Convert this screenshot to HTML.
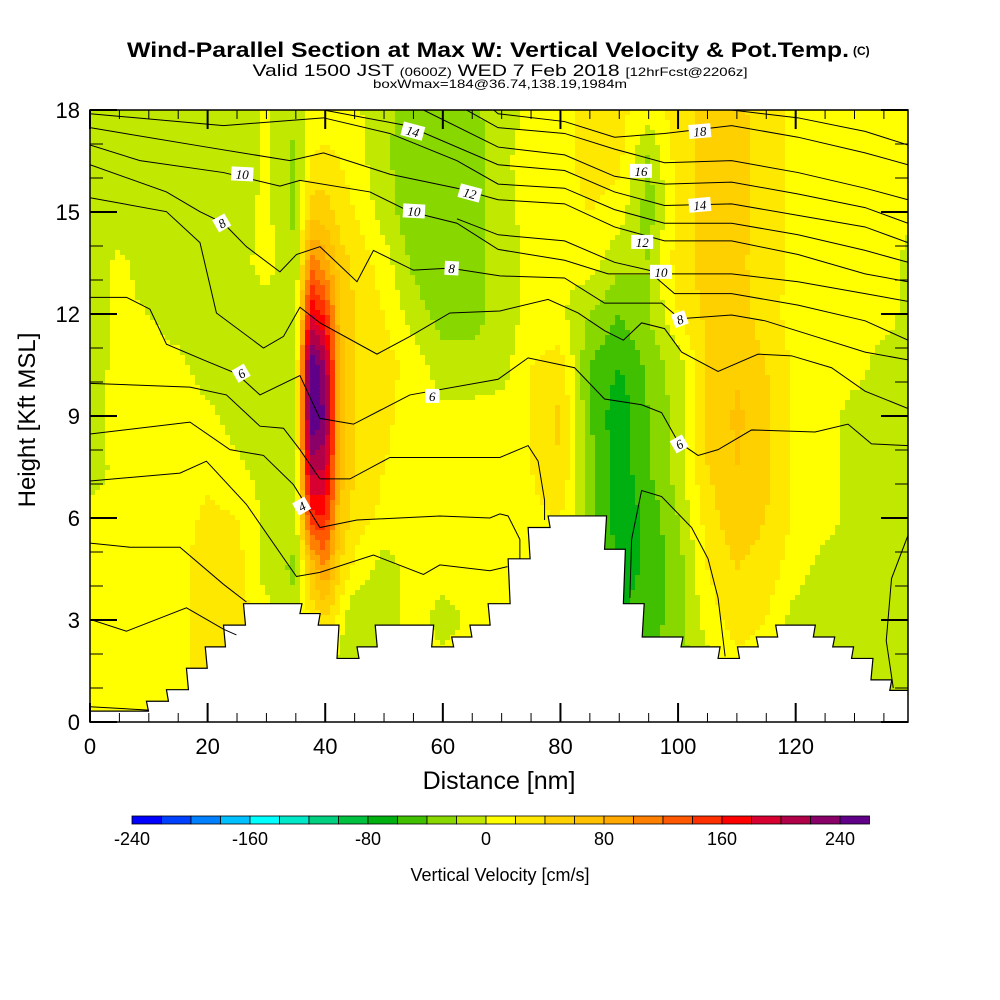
<!DOCTYPE html>
<html><head><meta charset="utf-8"><style>
html,body{margin:0;padding:0;background:#fff;}
svg{display:block;font-family:"Liberation Sans",sans-serif;}
</style></head><body>
<svg id="chart" width="1000" height="1000" viewBox="0 0 1000 1000" xmlns="http://www.w3.org/2000/svg">
<text x="488" y="57" text-anchor="middle" font-weight="bold" font-size="21" textLength="722" lengthAdjust="spacingAndGlyphs">Wind-Parallel Section at Max W: Vertical Velocity &amp; Pot.Temp.</text>
<text x="853" y="55" font-weight="bold" font-size="12">(C)</text>
<text x="500" y="76" text-anchor="middle" font-size="17" textLength="495" lengthAdjust="spacingAndGlyphs">Valid 1500 JST <tspan font-size="12">(0600Z)</tspan> WED 7 Feb 2018 <tspan font-size="12">[12hrFcst@2206z]</tspan></text>
<text x="500" y="88" text-anchor="middle" font-size="12" textLength="254" lengthAdjust="spacingAndGlyphs">boxWmax=184@36.74,138.19,1984m</text>
<defs><clipPath id="plotclip"><rect x="90" y="110" width="818" height="612"/></clipPath></defs>
<g id="field" clip-path="url(#plotclip)" shape-rendering="crispEdges"></g>
<g id="terrain" clip-path="url(#plotclip)"></g>
<g id="contours" clip-path="url(#plotclip)" fill="none" stroke="#000" stroke-width="1"></g>
<g id="clabels"></g>
<rect x="90" y="110" width="818" height="612" fill="none" stroke="#000" stroke-width="1.5"/>
<g id="axes"></g>
<text x="499" y="789" text-anchor="middle" font-size="25">Distance [nm]</text>
<text x="0" y="0" transform="translate(35,420) rotate(-90)" text-anchor="middle" font-size="24">Height [Kft MSL]</text>
<g id="colorbar"></g>
<text x="500" y="881" text-anchor="middle" font-size="18">Vertical Velocity [cm/s]</text>
</svg>
<script>
// ---- data ----
const gridX = [0,5,10,15,20,25,30,35,37.5,40,42.5,45,50,55,60,65,70,75,80,85,90,95,100,105,110,115,120,125,130,135,140];
const gridY = [0,1.5,3,4.5,6,7.5,9,10.5,12,13.5,15,16.5,18];
const w0  = [10,10,10,15,25,20,10,10,10,10,-10,-20,10,10,10,10,10,10,10,10,-40,-40,-30,-10,10,10,-10,-10,-10,-10,-10];
const w1  = [10,10,10,15,25,20,10,10,10,10,-10,-20,10,10,10,10,10,10,10,10,-40,-40,-30,-10,10,10,-10,-10,-10,-10,-10];
const w3  = [10,10,10,15,30,30,10,-15,20,40,10,-20,-10,10,-10,5,10,10,10,10,-60,-50,-30,10,30,20,-10,-10,-10,-10,-10];
const w4  = [10,10,10,15,30,30,-10,-25,60,100,40,15,-10,10,10,10,10,10,10,20,-70,-55,-30,20,40,30,10,-10,-10,-10,-10];
const w6  = [10,10,10,10,25,20,-5,-10,150,160,60,30,15,10,10,10,10,15,20,-30,-75,-55,-20,30,55,40,15,10,-10,-10,-15];
const w7  = [-15,10,10,10,15,5,-10,-5,210,200,70,40,20,10,10,10,10,20,40,-30,-75,-40,-10,40,60,45,15,10,-10,-10,-15];
const w9  = [-10,10,10,10,5,-10,-15,-10,260,240,70,40,25,10,5,5,10,20,45,-40,-75,-40,-10,40,65,45,15,10,-10,-10,-15];
const w10 = [-15,10,10,5,-10,-10,-15,-10,260,220,70,40,30,10,-10,-10,-10,20,30,-40,-60,-35,-10,40,55,40,15,10,10,-10,-15];
const w12 = [-10,5,0,-10,-15,-10,-10,-10,180,150,60,40,20,-10,-30,-30,-10,5,5,-20,-40,-20,20,45,50,30,10,5,5,10,-10];
const w13 = [-10,5,-10,-15,-15,-10,10,-20,110,90,50,35,10,-25,-35,-30,-10,5,5,10,-15,-20,30,50,45,30,15,10,10,10,-10];
const w15 = [-10,-15,-15,-15,-15,-10,5,-25,50,50,30,20,-10,-35,-35,-30,-10,10,10,20,10,-30,30,50,50,30,15,10,10,10,5];
const w16 = [-15,-20,-15,-15,-15,-15,5,-25,20,30,20,10,-15,-35,-35,-30,-5,10,10,30,25,-25,30,50,50,30,15,15,10,10,10];
const w18 = [-20,-20,-20,-15,-20,-15,5,-20,5,5,5,5,-15,-30,-30,-25,-10,5,10,30,25,10,30,45,45,30,15,15,15,10,10];
const wRows = [w0,w1,w3,w4,w6,w7,w9,w10,w12,w13,w15,w16,w18];

const colorLevels = [-240,-220,-200,-180,-160,-140,-120,-100,-80,-60,-40,-20,0,20,40,60,80,100,120,140,160,180,200,220,240];
const colorList = ['#0000ff','#0040ff','#0080ff','#00c0ff','#00ffff','#00e8c8','#00d080','#00c040','#00b010','#40c000','#88d800','#c0e800','#ffff00','#ffe800','#ffd000','#ffc000','#ffa800','#ff8000','#ff5800','#ff3000','#ff0000','#d80030','#b00048','#880068','#600088'];
const cbTickValues = [-240,-160,-80,0,80,160,240];
const xTickLabels = [0,20,40,60,80,100,120];
const yTickLabels = [0,3,6,9,12,15,18];

const terrainStartNm = [0,9.6,13,16.4,19.6,22.7,26.1,35.7,38.8,42,45.4,48.5,58.1,61.5,64.6,67.7,71.1,74.5,77.9,87.5,90.7,93.9,100.5,106.8,110.1,113.3,116.6,123,126.3,129.5,132.8,136];
const terrainKft = [0.32,0.61,0.95,1.58,2.21,2.85,3.48,3.19,2.85,1.87,2.21,2.85,2.21,2.5,2.85,3.48,4.8,5.72,6.06,5.08,3.48,2.5,2.21,1.87,2.21,2.5,2.85,2.5,2.21,1.87,1.24,0.93];

const cLow = [[0,0.45],[10,0.35]];
const cL2 = [[0,3.02],[6.2,2.67],[16.4,3.36],[22.7,2.73],[24.9,2.56]];
const cL1 = [[0,5.26],[6.8,5.14],[15.3,5.14],[22.7,4.05],[26.6,3.53]];
const cL3 = [[0,7.09],[15.3,7.32],[19.8,7.67],[26.6,6.4],[35.1,4.28],[39.1,4.4],[48.2,4.91],[56.7,4.34],[59.5,4.62],[68,4.45],[71,4.57]];
const cL4 = [[0,8.47],[17,8.82],[23.8,8.01],[29.5,7.84],[34.6,6.98],[39.1,5.72],[45.4,5.94],[59.5,6.06],[68,6.0],[69.7,6.12],[71.1,6.06],[73.1,5.37],[73.1,4.8]];
const cL5 = [[0,9.96],[17,9.85],[23.2,9.62],[28.9,8.7],[32.9,8.64],[35.7,8.01],[39.1,7.15],[44.2,7.15],[51,7.78],[69.7,7.78],[74.5,8.13],[76.2,7.67],[77.3,6.52],[77.3,5.94]];
const cL6 = [[0,12.49],[6.2,12.49],[10.2,12.14],[13,11.11],[19.3,10.65],[24.9,10.25],[28.9,9.62],[35.7,10.19],[39.1,8.93],[44.8,8.76],[54.4,9.62],[69.4,10.08],[74.5,10.71],[82.4,10.42],[87.5,9.5],[93.8,9.33],[97.2,9.1],[100,8.24],[103.4,7.84],[106.8,8.01],[112.5,8.59],[123.3,8.53],[128.9,8.76],[132.9,8.18],[139.1,8.13]];
const cL7 = [[0,15.42],[13,15.01],[18.7,14.1],[21.5,12.03],[29.5,11],[32.9,11.34],[35.7,12.2],[39.1,11.74],[48.8,10.82],[54.4,11.34],[61.2,12.03],[69.7,12.09],[77.9,12.43],[83,12.03],[87.5,11.51],[90.7,11.23],[93.8,11.74],[97.7,11.57],[100.6,10.88],[106.8,10.31],[113.6,10.82],[119.3,10.77],[126.1,10.42],[131.8,9.73],[139.1,9.22]];
const cL8 = [[0,16.39],[13,15.59],[18.7,15.01],[22.7,14.67],[26.6,13.98],[32.3,13.24],[35.1,13.75],[39.1,13.98],[45.4,12.95],[48.2,13.87],[55,13.29],[61.2,13.35],[69.7,13.12],[80.7,13.06],[87.5,12.32],[97.2,12.32],[100.3,11.86],[109.1,11.97],[114.8,11.8],[123.3,11.34],[131.8,10.88],[139.1,10.65]];
const cL9 = [[0,16.97],[8.5,16.51],[22.7,16.16],[32.3,15.76],[35.7,15.93],[47.6,15.59],[54.4,15.01],[62.4,14.67],[69.4,13.9],[80.7,13.58],[88.1,13.18],[95.5,13.18],[99.4,12.6],[109.1,12.6],[120.4,12.26],[131.8,11.8],[139.1,11.23]];
const cU1 = [[62.4,14.8],[69.4,14.33],[80.7,14.15],[89.2,13.52],[97.7,13.18],[109.1,13.18],[120.4,12.95],[131.8,12.6],[139.1,12.37]];
const cU2 = [[0,17.48],[19.8,16.91],[34,16.51],[39.7,16.74],[51,16.11],[62.4,15.7],[69.4,15.36],[80.7,15.24],[89.2,14.56],[97.7,14.15],[109.1,14.15],[120.4,13.75],[131.8,13.18],[139.1,12.95]];
const cU3 = [[0,17.89],[22.7,17.54],[39.7,17.77],[51,17.31],[62.4,16.51],[69.4,15.82],[80.7,15.7],[89.2,15.07],[97.7,14.67],[109.1,14.67],[120.4,14.33],[131.8,13.87],[139.1,13.52]];
const cU4 = [[25.5,18],[39.7,18],[53.9,17.54],[69.4,16.39],[80.7,16.22],[89.2,15.59],[97.7,15.19],[109.1,15.24],[120.4,14.9],[131.8,14.56],[139.1,14.1]];
const cU5 = [[56.7,18],[69.4,16.91],[80.7,16.68],[89.2,16.05],[97.7,15.82],[109.1,15.88],[120.4,15.53],[131.8,15.13],[139.1,14.67]];
const cU6 = [[64,18],[69.4,17.48],[80.7,17.31],[89.2,16.85],[97.7,16.45],[109.1,16.51],[120.4,16.16],[131.8,15.7],[139.1,15.36]];
const cU7 = [[68,18.1],[69.4,17.89],[80.7,17.66],[89.2,17.2],[97.7,17.31],[109.1,17.54],[120.4,17.2],[131.8,16.74],[139.1,16.39]];
const cU8 = [[97.7,18],[109.1,18],[120.4,17.77],[131.8,17.37],[139.1,16.97]];
const cArch = [[91.8,3.65],[92.1,5.37],[93.8,6.81],[97.2,6.63],[102.3,5.72],[105.1,4.8],[106.8,3.65],[108,1.93]];
const cRight = [[139.1,5.49],[136.3,4.22],[135.4,2.39],[136.6,1.0]];
const contourSet = [cLow,cL2,cL1,cL3,cL4,cL5,cL6,cL7,cL8,cL9,cU1,cU2,cU3,cU4,cU5,cU6,cU7,cU8,cArch,cRight];

const labelText = ['14','10','12','10','8','8','6','6','4','18','16','14','12','10','8','6'];
const labelNm  = [54.9,25.9,64.6,55.1,22.4,61.5,25.7,58.2,36,103.7,93.7,103.7,93.9,97.1,100.3,100.2];
const labelKft = [17.38,16.12,15.56,15.03,14.68,13.35,10.26,9.59,6.35,17.38,16.21,15.21,14.12,13.24,11.85,8.18];
const labelAngle = [15,3,15,3,-30,3,-30,0,-30,-5,0,-5,0,0,-20,-30];

// ---- scales ----
const X0=90, X1=908, Y0=722, Y1=110, XMAX=139.1, YMAX=18;
const sx = v => X0 + v/XMAX*(X1-X0);
const sy = v => Y0 - v/YMAX*(Y0-Y1);
const NS='http://www.w3.org/2000/svg';
function mk(tag, attrs, parent){const e=document.createElementNS(NS,tag);for(const k in attrs)e.setAttribute(k,attrs[k]);parent.appendChild(e);return e;}
function colorFor(v){let b=Math.floor((v-colorLevels[0])/20);b=Math.max(0,Math.min(colorList.length-1,b));return colorList[b];}
function locate(arr,v){
  let i=0; while(i<arr.length-2 && v>arr[i+1]) i++;
  let f=(v-arr[i])/(arr[i+1]-arr[i]); f=Math.max(0,Math.min(1,f));
  return [i,f];
}
function sample(nm,kft){
  const [i0,fi]=locate(gridX,nm), [j0,fj]=locate(gridY,kft);
  const a=wRows[j0][i0], b=wRows[j0][i0+1], c=wRows[j0+1][i0], d=wRows[j0+1][i0+1];
  return (a*(1-fi)+b*fi)*(1-fj)+(c*(1-fi)+d*fi)*fj;
}
// ---- field ----
const field=document.getElementById('field');
const CW=5, CH=5;
for(let py=Y1; py<Y0; py+=CH){
  for(let px=X0; px<X1; px+=CW){
    const nm=(px+CW/2-X0)/(X1-X0)*XMAX, kft=(Y0-(py+CH/2))/(Y0-Y1)*YMAX;
    const r=mk('rect',{x:px,y:py,width:CW+0.5,height:CH+0.5,fill:colorFor(sample(nm,kft))},field);
    
    
  }
}
// ---- terrain ----
let tp=`M${sx(0)},${Y0+2}`;
for(let k=0;k<terrainStartNm.length;k++){
  const xs=sx(terrainStartNm[k]), xe=sx(k+1<terrainStartNm.length?terrainStartNm[k+1]:XMAX)+2;
  tp+=` L${xs},${sy(terrainKft[k])} L${xe},${sy(terrainKft[k])}`;
}
tp+=` L${X1+2},${Y0+2} Z`;
const terr=mk('path',{d:tp,fill:'#fff',stroke:'#000','stroke-width':1.2},document.getElementById('terrain'));


// ---- contours ----
const cg=document.getElementById('contours');
contourSet.forEach(c=>{
  const p=mk('polyline',{points:c.map(q=>sx(q[0])+','+sy(q[1])).join(' ')},cg);
  
  
});
const lg=document.getElementById('clabels');
labelText.forEach((t,k)=>{
  const g=mk('g',{transform:`translate(${sx(labelNm[k])},${sy(labelKft[k])}) rotate(${labelAngle[k]})`},lg);
  
  
  const w=t.length>1?22:14;
  mk('rect',{x:-w/2,y:-7,width:w,height:14,fill:'#fff'},g);
  const tx=mk('text',{x:0,y:5,'text-anchor':'middle','font-size':13,'font-style':'italic','font-family':'"Liberation Serif",serif'},g);
  tx.textContent=t;
});
// ---- axes ----
const ax=document.getElementById('axes');
for(let v=0; v<=XMAX; v+=5){
  const major=v%20===0, x=sx(v);
  const t1=mk('line',{x1:x,y1:Y0,x2:x,y2:Y0-(major?19:9),stroke:'#000','stroke-width':major?2:1},ax);
  
  
  const t2=mk('line',{x1:x,y1:Y1,x2:x,y2:Y1+(major?19:9),stroke:'#000','stroke-width':major?2:1},ax);
  
  
}
xTickLabels.forEach(v=>{
  const t=mk('text',{x:sx(v),y:754,'text-anchor':'middle','font-size':22},ax);
  
  
  t.textContent=v;
});
for(let v=0; v<=YMAX; v+=1){
  const major=v%3===0, y=sy(v);
  const t1=mk('line',{x1:X0,y1:y,x2:X0+(major?27:13),y2:y,stroke:'#000','stroke-width':major?2:1},ax);
  
  
  const t2=mk('line',{x1:X1,y1:y,x2:X1-(major?27:13),y2:y,stroke:'#000','stroke-width':major?2:1},ax);
  
  
}
yTickLabels.forEach(v=>{
  const t=mk('text',{x:80,y:sy(v)+8,'text-anchor':'end','font-size':22},ax);
  
  
  t.textContent=v;
});
// ---- colorbar ----
const cb=document.getElementById('colorbar');
const CB0=132, CBW=29.5, CBY=816, CBH=8;
colorList.forEach((c,k)=>{
  const r=mk('rect',{x:CB0+k*CBW,y:CBY,width:CBW,height:CBH,fill:c,stroke:'#000','stroke-width':0.8},cb);
  
  
});
cbTickValues.forEach(v=>{
  const t=mk('text',{x:CB0+(v-colorLevels[0])/20*CBW,y:845,'text-anchor':'middle','font-size':18},cb);
  
  
  t.textContent=v;
});
</script>
</body></html>
